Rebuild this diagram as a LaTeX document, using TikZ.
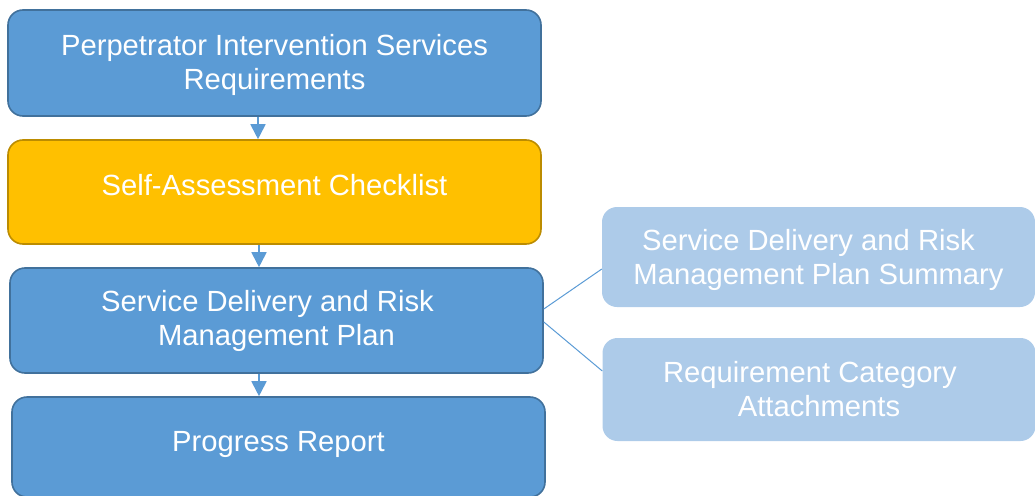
\documentclass[tikz,border=0pt]{standalone}
\usepackage{fontspec}
\setmainfont{Liberation Sans}
\usetikzlibrary{arrows.meta}
\definecolor{bfill}{HTML}{5B9BD5}
\definecolor{bline}{HTML}{41719C}
\definecolor{yfill}{HTML}{FFC000}
\definecolor{yline}{HTML}{BC8C00}
\definecolor{lfill}{HTML}{ADCBE9}
\newcommand{\shiftline}[2]{\raisebox{#1}[\height][\depth]{#2}}
\begin{document}
\begin{tikzpicture}[x=1pt,y=-1pt,
  box/.style={rounded corners=15pt, minimum width=533pt, inner sep=0pt,
    text=white, align=center, font=\fontsize{29.2}{34}\selectfont},
  bluebox/.style={box, fill=bfill, draw=bline, line width=1.6pt},
  yellowbox/.style={box, fill=yfill, draw=yline, line width=1.6pt},
  lightbox/.style={box, fill=lfill, minimum width=433pt},
  flow/.style={draw=bfill, line width=1.8pt, -{Triangle[width=15pt,length=15pt]}},
  link/.style={draw=bfill, line width=1pt}]
\useasboundingbox (0,0) rectangle (1035,495);
\node[bluebox, minimum height=106pt] (b1) at (274.5,63) {\shiftline{-2pt}{Perpetrator Intervention Services}\\\shiftline{-2pt}{Requirements}};
\node[yellowbox, minimum height=104pt] (b2) at (274.5,192) {\shiftline{7pt}{Self-Assessment Checklist}};
\node[bluebox, minimum height=105pt] (b3) at (276.5,320.5) {Service Delivery and Risk\kern18pt\\Management Plan};
\node[bluebox, minimum height=100pt] (b4) at (278.5,447) {\shiftline{3pt}{Progress Report}};
\node[lightbox, minimum height=100pt] (b5) at (818.5,257) {\shiftline{-3pt}{Service Delivery and Risk\kern20pt}\\\shiftline{-3pt}{Management Plan Summary}};
\node[lightbox, minimum height=103pt] (b6) at (819,389.5) {Requirement Category\kern18pt\\Attachments};
\draw[flow] ([xshift=-16.5pt]b1.south) -- ([xshift=-16.5pt]b1.south |- b2.north);
\draw[flow] ([xshift=-15.5pt]b2.south) -- ([xshift=-15.5pt]b2.south |- b3.north);
\draw[flow] ([xshift=-17.5pt]b3.south) -- ([xshift=-17.5pt]b3.south |- b4.north);
\draw[link] ([yshift=11.5pt]b3.east) -- ([yshift=-12pt]b5.west);
\draw[link] ([yshift=-1.5pt]b3.east) -- ([yshift=18.5pt]b6.west);
\end{tikzpicture}
\end{document}
